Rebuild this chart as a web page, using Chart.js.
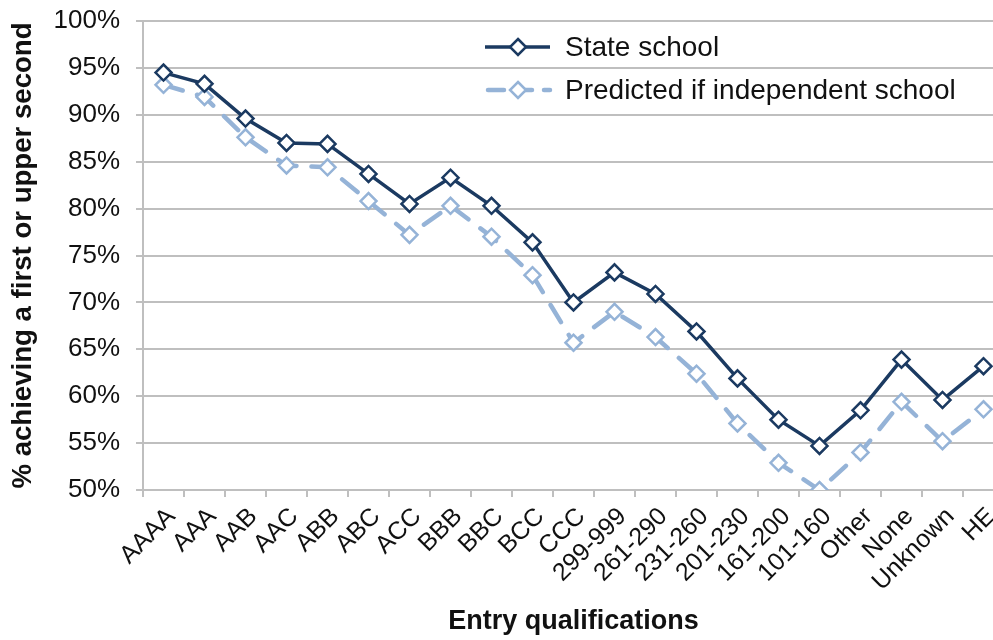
<!DOCTYPE html>
<html>
<head>
<meta charset="utf-8">
<script src="https://cdn.jsdelivr.net/npm/chart.js@4"></script>
<style>
  html, body { margin: 0; padding: 0; background: #fff; overflow: hidden; }
  #wrap { position: relative; width: 1010px; height: 640px; }
</style>
</head>
<body>
<div id="wrap"><canvas id="chart"></canvas></div>
<script>
const categories = ["AAAA", "AAA", "AAB", "AAC", "ABB", "ABC", "ACC", "BBB", "BBC", "BCC", "CCC",
    "299-999", "261-290", "231-260", "201-230", "161-200", "101-160", "Other", "None", "Unknown", "HE"];
const stateSchool = [94.5, 93.3, 89.6, 87.0, 86.9, 83.7, 80.5, 83.3, 80.3, 76.4, 70.0,
    73.2, 70.9, 66.9, 61.9, 57.5, 54.7, 58.5, 63.9, 59.6, 63.2];
const predictedIndependent = [93.2, 91.9, 87.6, 84.6, 84.4, 80.8, 77.2, 80.3, 77.0, 72.9, 65.7,
    69.0, 66.3, 62.4, 57.1, 52.9, 50.0, 54.0, 59.4, 55.2, 58.6];
const seriesNames = ["State school", "Predicted if independent school"];

const dark = "#1B3A61";
const light = "#95B3D7";
const grid = "#BFBFBF";
const font = "'Liberation Sans', Arial, sans-serif";

// legend drawn inside the plot, like the original
const insideLegend = {
    id: "insideLegend",
    afterDraw(chart) {
        const ctx = chart.ctx;
        const items = [
            { y: 47, color: dark, dash: [], w: 3.5 },
            { y: 90, color: light, dash: [16, 12], w: 4.5 }
        ];
        items.forEach((it, i) => {
            ctx.save();
            ctx.strokeStyle = it.color;
            ctx.lineWidth = it.w;
            ctx.lineCap = it.dash.length ? "round" : "butt";
            ctx.setLineDash(it.dash);
            ctx.beginPath();
            ctx.moveTo(it.dash.length ? 488 : 485, it.y);
            ctx.lineTo(550, it.y);
            ctx.stroke();
            ctx.setLineDash([]);
            ctx.fillStyle = "#fff";
            ctx.lineWidth = 2.5;
            ctx.beginPath();
            ctx.moveTo(518, it.y - 8);
            ctx.lineTo(526, it.y);
            ctx.lineTo(518, it.y + 8);
            ctx.lineTo(510, it.y);
            ctx.closePath();
            ctx.fill();
            ctx.stroke();
            ctx.fillStyle = "#111";
            ctx.font = "28px " + font;
            ctx.textBaseline = "middle";
            ctx.fillText(seriesNames[i], 565, it.y + 1);
            ctx.restore();
        });
    }
};

new Chart(document.getElementById("chart"), {
    type: "line",
    data: {
        labels: categories,
        datasets: [{
            label: seriesNames[0],
            data: stateSchool,
            borderColor: dark,
            borderWidth: 3.5,
            pointStyle: "rectRot",
            pointRadius: 8,
            pointBorderWidth: 2.5,
            pointBackgroundColor: "#fff",
            pointBorderColor: dark,
            tension: 0,
            order: 0
        }, {
            label: seriesNames[1],
            data: predictedIndependent,
            borderColor: light,
            borderWidth: 4.5,
            borderDash: [20, 15],
            borderCapStyle: "round",
            pointStyle: "rectRot",
            pointRadius: 8,
            pointBorderWidth: 2.5,
            pointBackgroundColor: "#fff",
            pointBorderColor: light,
            tension: 0,
            order: 1
        }]
    },
    options: {
        responsive: true,
        maintainAspectRatio: false,
        animation: false,
        layout: { autoPadding: false, padding: { top: 21, right: 6, left: 0, bottom: 0 } },
        plugins: {
            legend: { display: false },
            tooltip: { enabled: false }
        },
        scales: {
            x: {
                offset: true,
                grid: { display: true, drawOnChartArea: false, drawTicks: true, tickLength: 7, color: grid, lineWidth: 2, offset: true },
                border: { color: grid, width: 2 },
                ticks: { minRotation: 45, maxRotation: 45, labelOffset: 8, color: "#111", font: { family: font, size: 25 }, padding: 5, autoSkip: false },
                title: { display: true, text: "Entry qualifications", color: "#111", font: { family: font, size: 27, weight: "bold" }, padding: { top: 0, bottom: 2 } },
                afterFit: s => { s.height = 150; }
            },
            y: {
                min: 50,
                max: 100,
                ticks: { stepSize: 5, callback: v => v + "%", color: "#111", font: { family: font, size: 26, lineHeight: 1 }, padding: 16 },
                grid: { color: grid, lineWidth: 2, tickLength: 7 },
                border: { color: grid, width: 2 },
                title: { display: true, text: "% achieving a first or upper second", color: "#111", font: { family: font, size: 27.6, weight: "bold" }, padding: { top: 7, bottom: 0 } },
                afterFit: s => { s.width = 143; s.paddingTop = 0; s.paddingBottom = 0; }
            }
        }
    },
    plugins: [insideLegend]
});
</script>
</body>
</html>
